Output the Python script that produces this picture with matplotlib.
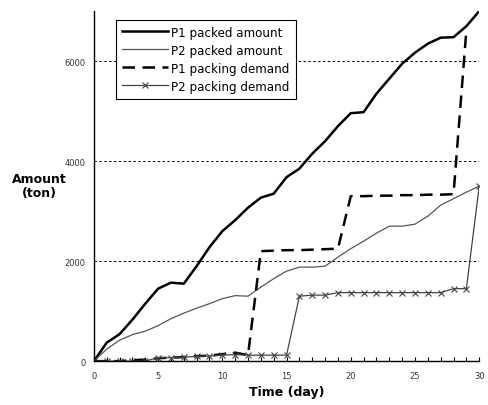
"""
Packed amount vs packing demand for P1 and P2 over 30 days.
"""
import numpy as np
import matplotlib.pyplot as plt
from matplotlib.ticker import MultipleLocator

days = np.arange(0, 31)

# values (ton)
p1_packed = [0, 370, 540, 830, 1150, 1450, 1570, 1550, 1900, 2280, 2600,
             2820, 3070, 3270, 3350, 3680, 3850, 4150, 4400, 4700, 4960,
             4980, 5350, 5650, 5950, 6170, 6350, 6470, 6480, 6700, 7000]
p2_packed = [0, 240, 420, 530, 600, 710, 850, 960, 1060, 1150, 1250,
             1310, 1300, 1480, 1650, 1800, 1880, 1880, 1900, 2080, 2250,
             2400, 2560, 2700, 2700, 2740, 2900, 3120, 3250, 3380, 3500]
p1_demand = [0, 0, 0, 20, 30, 60, 70, 80, 100, 110, 140, 170, 120, 2200,
             2210, 2220, 2220, 2230, 2240, 2250, 3300, 3300, 3310, 3310,
             3320, 3320, 3330, 3330, 3340, 6620]
p2_demand = [0, 0, 0, 0, 0, 70, 70, 75, 100, 100, 120, 130, 120, 120, 120,
             120, 1300, 1320, 1320, 1370, 1370, 1370, 1370, 1370, 1370,
             1370, 1370, 1370, 1450, 1450, 3500]

fig = plt.figure(figsize=(4.89, 4.06), dpi=100)
ax = fig.add_axes([0.192, 0.108, 0.788, 0.862])

ax.plot(days, p1_packed, color='black', lw=1.8, label='P1 packed amount')
ax.plot(days, p2_packed, color='#555555', lw=0.9, label='P2 packed amount')
ax.plot(days[:len(p1_demand)], p1_demand, color='black', lw=1.8,
        dashes=(5, 3), label='P1 packing demand')
ax.plot(days, p2_demand, color='#444444', lw=0.9, marker='x', ms=5,
        mew=0.8, label='P2 packing demand')

ax.set_xlim(0, 30)
ax.set_ylim(0, 7000)
ax.xaxis.set_major_locator(MultipleLocator(5))
ax.xaxis.set_minor_locator(MultipleLocator(1))
ax.set_yticks([0, 2000, 4000, 6000])
ax.tick_params(axis='x', which='both', direction='in', length=3, width=0.8,
               labelsize=6, labelcolor='#333333', pad=7)
ax.tick_params(axis='y', length=0, labelsize=6, labelcolor='#333333', pad=6)

for s in ('top', 'right'):
    ax.spines[s].set_visible(False)
for s in ('left', 'bottom'):
    ax.spines[s].set_linewidth(1.0)

for y in (2000, 4000, 6000):
    ax.axhline(y, color='black', lw=0.7, dashes=(2.5, 2.5), zorder=0)

ax.set_xlabel('Time (day)', fontsize=9, fontweight='bold', labelpad=4)
fig.text(0.08, 0.54, 'Amount\n(ton)', fontsize=9, fontweight='bold',
         ha='center', va='center', linespacing=1.1)

leg = ax.legend(loc='upper left', bbox_to_anchor=(0.057, 0.976), fontsize=8.6,
                frameon=True, fancybox=False, handlelength=3.9,
                borderaxespad=0, borderpad=0.5, labelspacing=0.42,
                handletextpad=0.25)
leg.get_frame().set_edgecolor('black')
leg.get_frame().set_linewidth(0.8)
leg.get_frame().set_alpha(1)

fig.savefig('out.png', dpi=100)
